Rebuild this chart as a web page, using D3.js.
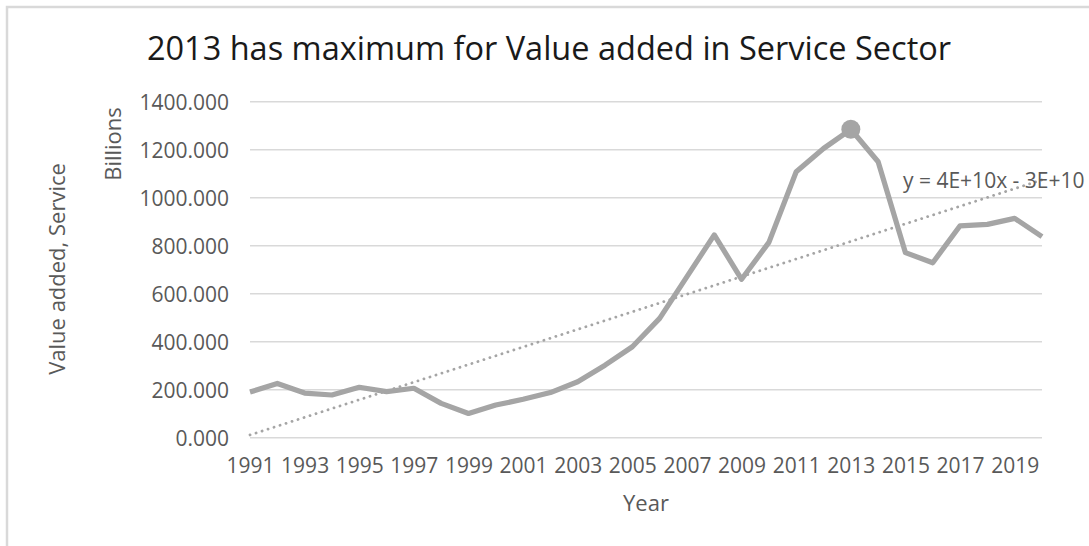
<!DOCTYPE html>
<html>
<head>
<meta charset="utf-8">
<script src="https://cdn.jsdelivr.net/npm/d3@7"></script>
<style>
  html, body { margin: 0; padding: 0; background: #fff; }
  svg { display: block; }
  text { font-family: "Open Sans", "Noto Sans", sans-serif; }
</style>
</head>
<body>
<svg id="chart" width="1089" height="546"></svg>
<script>
// Value added in the service sector, billions, by year
const years = [1991,1992,1993,1994,1995,1996,1997,1998,1999,2000,
               2001,2002,2003,2004,2005,2006,2007,2008,2009,2010,
               2011,2012,2013,2014,2015,2016,2017,2018,2019,2020];
const serviceValues = [190,226,186,178,210,192,206,143,101,136,
                       160,188,233,302,379,497,671,845,660,814,
                       1108,1205,1285,1150,771,729,883,889,914,838];
const yTicks = [0,200,400,600,800,1000,1200,1400];
const xTickLabels = [1991,1993,1995,1997,1999,2001,2003,2005,2007,2009,2011,2013,2015,2017,2019];
const highlightYear = 2013;
const trendEquation = "y = 4E+10x - 3E+10";
const titleText = "2013 has maximum for Value added in Service Sector";

const svg = d3.select("#chart");
const lineColor = "#A5A5A5";
const gridColor = "#D9D9D9";
const textColor = "#595959";

// chart frame
svg.append("rect")
  .attr("x", 7).attr("y", 7)
  .attr("width", 1200).attr("height", 700)
  .attr("fill", "#fff")
  .attr("stroke", gridColor).attr("stroke-width", 2.5);

const x = d3.scalePoint().domain(years).range([250, 1042]);
const y = d3.scaleLinear().domain([0, 1400]).range([437.7, 101.7]);

// horizontal gridlines
svg.append("g").selectAll("line").data(yTicks).join("line")
  .attr("x1", x.range()[0]).attr("x2", x.range()[1])
  .attr("y1", d => y(d)).attr("y2", d => y(d))
  .attr("stroke", gridColor).attr("stroke-width", 1.6);

// y axis labels
const yAxis = d3.axisLeft(y).tickValues(yTicks).tickFormat(d3.format(".3f")).tickSize(0).tickPadding(0);
const gy = svg.append("g").attr("transform", "translate(229,0)").call(yAxis);
gy.select(".domain").remove();
gy.selectAll("text")
  .attr("fill", textColor).style("font-size", "21px")
  .style("font-family", '"Open Sans", sans-serif')
  .attr("dy", "0.35em");

// x axis labels
const xAxis = d3.axisBottom(x).tickValues(xTickLabels).tickSize(0).tickPadding(0);
const gx = svg.append("g").attr("transform", "translate(0,457)").call(xAxis);
gx.select(".domain").remove();
gx.selectAll("text")
  .attr("fill", textColor).style("font-size", "21px")
  .style("font-family", '"Open Sans", sans-serif')
  .attr("dy", "0.75em");

// linear trendline (least squares on year index 1..n)
const n = years.length;
const idx = years.map((_, i) => i + 1);
const mx = d3.mean(idx), my = d3.mean(serviceValues);
const slope = d3.sum(idx, (t, i) => (t - mx) * (serviceValues[i] - my)) / d3.sum(idx, t => (t - mx) ** 2);
const intercept = my - slope * mx;
const trendPts = [years[0], years[n - 1]].map((yr, k) => [yr, intercept + slope * (k === 0 ? 1 : n)]);

svg.append("line")
  .attr("x1", x(trendPts[0][0])).attr("y1", y(trendPts[0][1]))
  .attr("x2", x(trendPts[1][0])).attr("y2", y(trendPts[1][1]))
  .attr("stroke", lineColor).attr("stroke-width", 2.8)
  .attr("stroke-dasharray", "0.1 6.2").attr("stroke-linecap", "round");

// data series
const line = d3.line().x((d, i) => x(years[i])).y(d => y(d));
svg.append("path")
  .datum(serviceValues)
  .attr("d", line)
  .attr("fill", "none")
  .attr("stroke", lineColor).attr("stroke-width", 5.2)
  .attr("stroke-linejoin", "round");

// highlighted maximum
const hi = years.indexOf(highlightYear);
svg.append("circle")
  .attr("cx", x(highlightYear)).attr("cy", y(serviceValues[hi]))
  .attr("r", 9.5).attr("fill", lineColor);

// trendline equation
svg.append("text")
  .attr("x", 903).attr("y", 188)
  .attr("fill", textColor).style("font-size", "21px")
  .text(trendEquation);

// title
svg.append("text")
  .attr("x", 549).attr("y", 60)
  .attr("text-anchor", "middle")
  .attr("fill", "#1a1a1a").style("font-size", "32.5px")
  .text(titleText);

// axis titles
svg.append("text")
  .attr("transform", "translate(65,269) rotate(-90)")
  .attr("text-anchor", "middle")
  .attr("fill", textColor).style("font-size", "22px")
  .text("Value added, Service");

svg.append("text")
  .attr("transform", "translate(121,144) rotate(-90)")
  .attr("text-anchor", "middle")
  .attr("fill", textColor).style("font-size", "22px")
  .text("Billions");

svg.append("text")
  .attr("x", 646).attr("y", 511)
  .attr("text-anchor", "middle")
  .attr("fill", textColor).style("font-size", "22px")
  .text("Year");
</script>
</body>
</html>
